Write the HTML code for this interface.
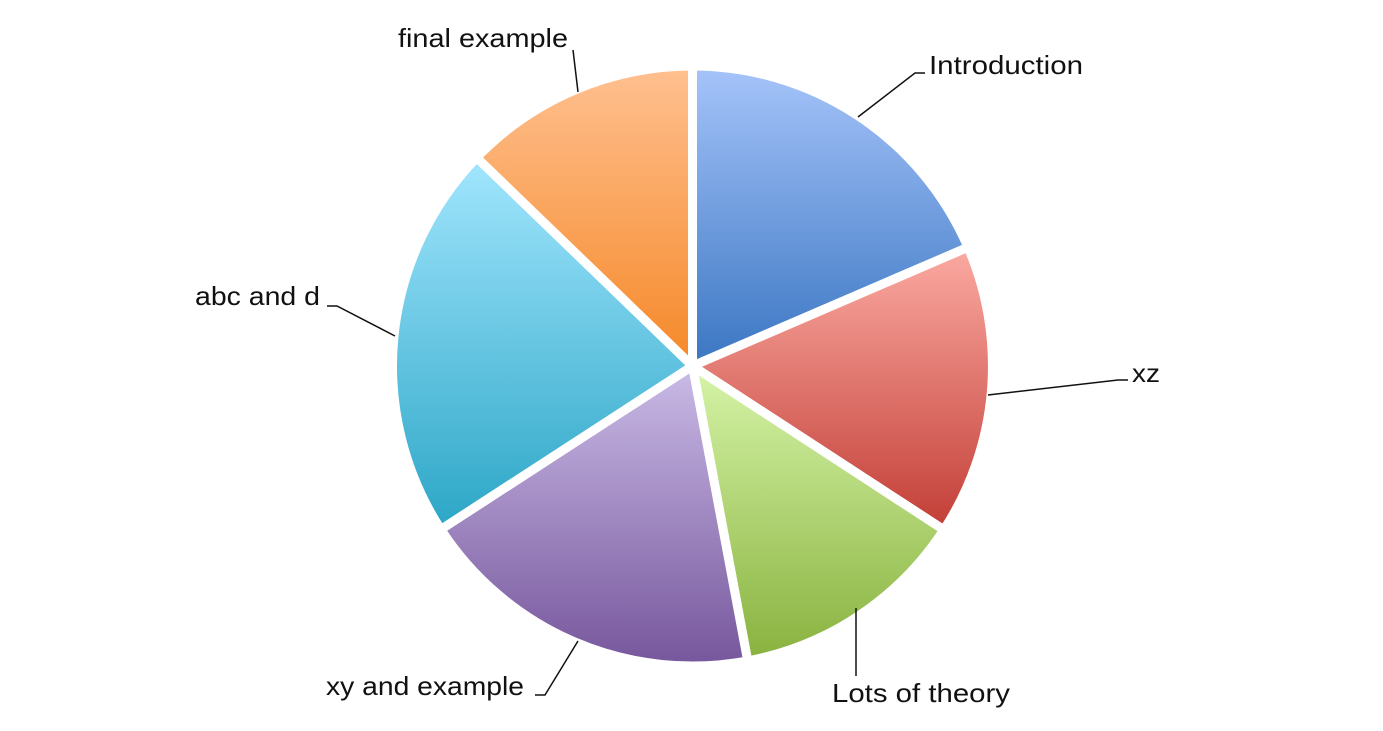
<!DOCTYPE html>
<html><head><meta charset="utf-8"><style>
html,body{margin:0;padding:0;background:#fff;}
svg{display:block}
text{font-family:"Liberation Sans",sans-serif;font-size:26px;fill:#111}
</style></head><body>
<svg id="s" width="1383" height="731" viewBox="0 0 1383 731">
<defs>
<linearGradient id="g0" x1="0" y1="0" x2="0" y2="1"><stop offset="0" stop-color="#a6c4fa"/><stop offset="1" stop-color="#3a76c2"/></linearGradient>
<linearGradient id="g1" x1="0" y1="0" x2="0" y2="1"><stop offset="0" stop-color="#fbaaa2"/><stop offset="1" stop-color="#c23e36"/></linearGradient>
<linearGradient id="g2" x1="0" y1="0" x2="0" y2="1"><stop offset="0" stop-color="#d6f4a8"/><stop offset="1" stop-color="#88b23e"/></linearGradient>
<linearGradient id="g3" x1="0" y1="0" x2="0" y2="1"><stop offset="0" stop-color="#cabbe6"/><stop offset="1" stop-color="#76569c"/></linearGradient>
<linearGradient id="g4" x1="0" y1="0" x2="0" y2="1"><stop offset="0" stop-color="#a2e6fe"/><stop offset="1" stop-color="#2ca6c6"/></linearGradient>
<linearGradient id="g5" x1="0" y1="0" x2="0" y2="1"><stop offset="0" stop-color="#ffc090"/><stop offset="1" stop-color="#f58828"/></linearGradient>
</defs>
<g id="pie"></g>
<g stroke="#111" stroke-width="1.5" fill="none">
<polyline points="858,117 915,73 925,73"/>
<polyline points="988,395 1118,380 1128,380"/>
<polyline points="856,608 856,676"/>
<polyline points="395,336 337,306 327,306"/>
<polyline points="578,641 545,695 535,695"/>
<polyline points="578,92 573,50"/>
</g>
<text x="929" y="74" textLength="154" lengthAdjust="spacingAndGlyphs">Introduction</text>
<text x="1132" y="382" textLength="28" lengthAdjust="spacingAndGlyphs">xz</text>
<text x="832" y="702" textLength="178" lengthAdjust="spacingAndGlyphs">Lots of theory</text>
<text x="195" y="305" textLength="125" lengthAdjust="spacingAndGlyphs">abc and d</text>
<text x="326" y="695" textLength="198" lengthAdjust="spacingAndGlyphs">xy and example</text>
<text x="398" y="47" textLength="170" lengthAdjust="spacingAndGlyphs">final example</text>
</svg>
<script>
var cx=692.5,cy=366,r=300,a=[0,66.7,123.1,169.4,237,314,360],g=document.getElementById('pie'),h='';
function p(d){var t=d*Math.PI/180;return [cx+r*Math.sin(t),cy-r*Math.cos(t)];}
for(var i=0;i<6;i++){var s=p(a[i]),e=p(a[i+1]),l=(a[i+1]-a[i])>180?1:0;
h+='<path d="M'+cx+','+cy+' L'+s[0].toFixed(1)+','+s[1].toFixed(1)+' A'+r+','+r+' 0 '+l+' 1 '+e[0].toFixed(1)+','+e[1].toFixed(1)+' Z" fill="url(#g'+i+')" stroke="#fff" stroke-width="9" stroke-linejoin="round"/>';}
g.innerHTML=h;
</script>
</body></html>
